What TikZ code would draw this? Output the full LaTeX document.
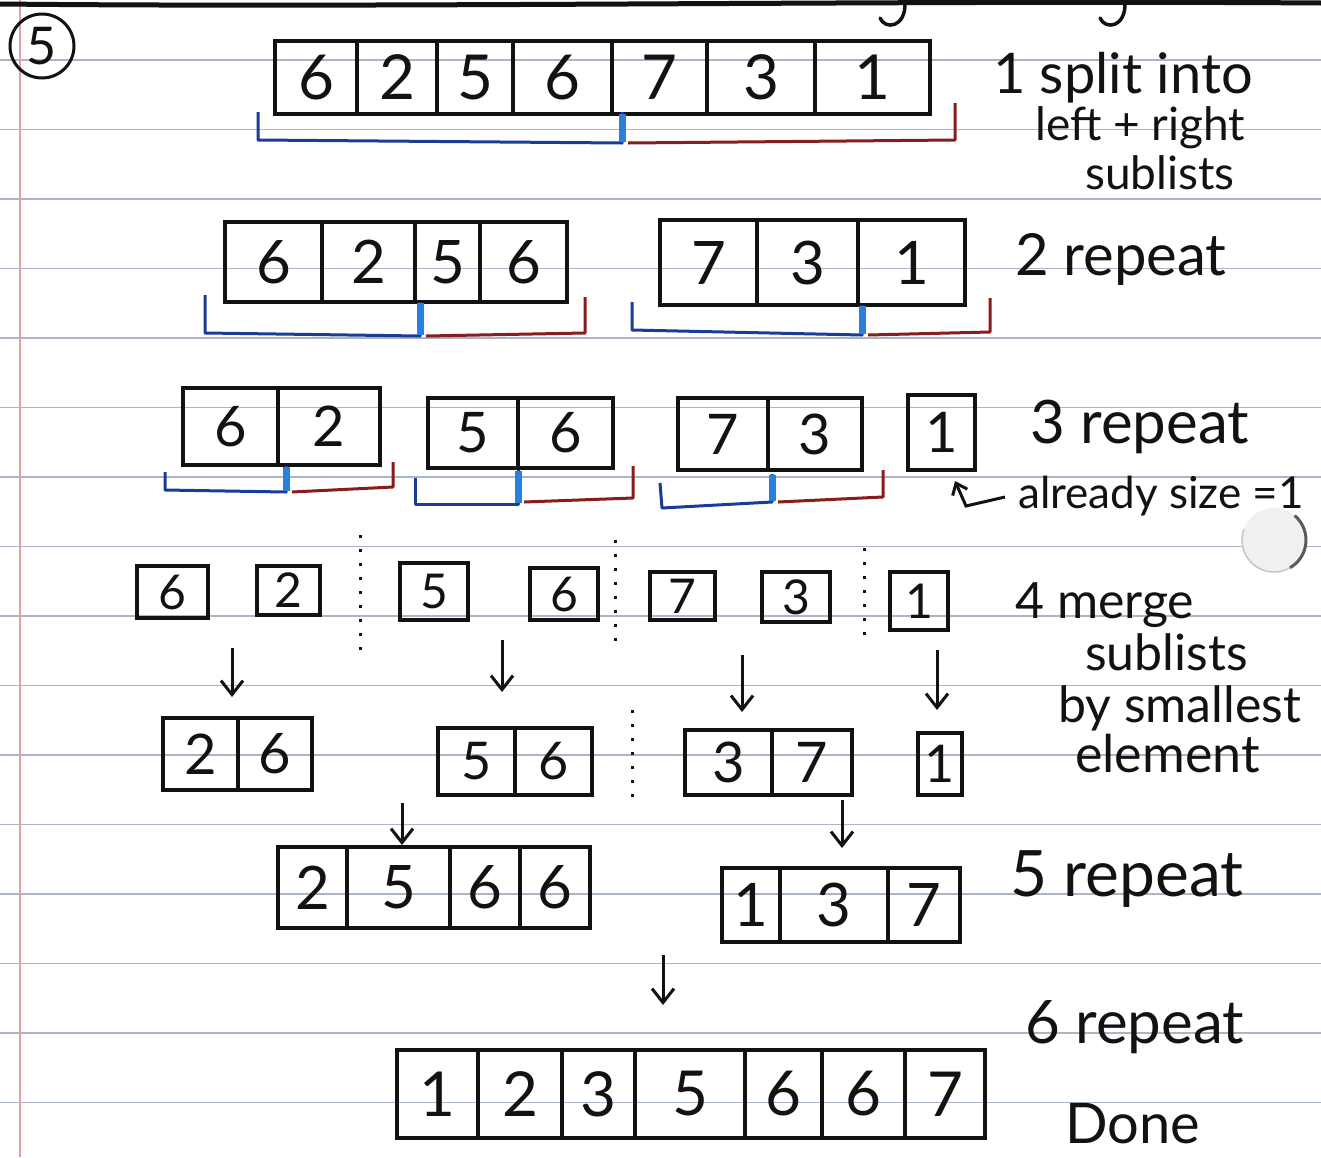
\documentclass[tikz,border=0pt]{standalone}
\usepackage{fontspec}
\setmainfont{Lato}
\usetikzlibrary{arrows.meta}
\definecolor{ruled}{RGB}{170,182,198}
\definecolor{marginred}{RGB}{228,160,160}
\definecolor{penblue}{RGB}{25,60,150}
\definecolor{markblue}{RGB}{40,130,220}
\definecolor{penred}{RGB}{135,30,30}
\definecolor{ink}{RGB}{18,18,18}
\tikzset{
  cell/.style={draw=ink, line width=3.5pt, inner sep=0pt, text=ink},
  lbl/.style={anchor=base west, inner sep=0pt, text=ink},
  downarrow/.style={draw=ink, line width=3pt, -{Straight Barb[length=14pt,width=22pt,line width=3pt]}},
  leftbr/.style={draw=penblue, line width=3pt, line join=round},
  rightbr/.style={draw=penred, line width=3pt, line join=round},
  splitmark/.style={draw=markblue, line width=7pt},
  sep/.style={draw=ink, line width=3pt, dash pattern=on 3pt off 11pt},
}
\newcommand\mkrow[5]{%
  \foreach \xl/\xr/\d [count=\i] in {#4} {
    \node[cell, minimum width={\xr-\xl}, minimum height={#3-#2},
          font=\fontsize{#5}{#5}\selectfont] (#1\i) at ({(\xl+\xr)/2},{(#2+#3)/2}) {\d};
  }}
\begin{document}
\begin{tikzpicture}[x=1pt,y=-1pt]
\useasboundingbox (0,0) rectangle (1321,1157);
\fill[white] (0,0) rectangle (1321,1157);
% ruled paper
\foreach \k in {0,...,15} {
  \draw[ruled, line width=1.5pt] (0,{60+69.5*\k}) -- (1321,{60+69.5*\k});
}
\draw[marginred, line width=1.6pt] (20,0) -- (20,1157);
% top edge and leftover strokes
\draw[ink, line width=5pt] (0,4) .. controls (400,8) and (900,0) .. (1321,3);
\draw[ink, line width=3.5pt, line cap=round] (905,2) .. controls (906,28) and (885,30) .. (880,18);
\draw[ink, line width=3.5pt, line cap=round] (1125,2) .. controls (1126,28) and (1105,30) .. (1100,18);
% circled 5
\node[draw=ink, circle, line width=3pt, minimum size=64pt, inner sep=0pt,
      font=\fontsize{52}{52}\selectfont, text=ink] (num) at (42,46) {5};
% hole punch
\fill[gray!12] (1274,540) circle (32);
\draw[gray!70!black, line width=3pt] (1274,540) ++(-50:32) arc (-50:60:32);
\draw[gray!45, line width=1.5pt] (1274,540) ++(60:32) arc (60:200:32);

% ---------- row 1
\mkrow{ra}{41}{114}{275/357/6,357/437/2,437/513/5,513/612/6,612/707/7,707/815/3,815/930/1}{62}
\draw[leftbr] (258,112) -- (258,140) -- (622,143) -- (622,112);
\draw[rightbr] (628,143) -- (955,140) -- (955,103);
\draw[splitmark] (622,114) -- (622,142);
\node[lbl, font=\fontsize{56}{56}\selectfont] (t1a) at (993,93) {1 split into};
\node[lbl, font=\fontsize{46}{46}\selectfont] (t1b) at (1035,140) {left + right};
\node[lbl, font=\fontsize{46}{46}\selectfont] (t1c) at (1085,189) {sublists};

% ---------- row 2
\mkrow{rb}{222}{302}{225/322/6,322/415/2,415/480/5,480/567/6}{60}
\mkrow{rc}{220}{305}{660/757/7,757/858/3,858/965/1}{60}
\draw[leftbr] (205,295) -- (205,333) -- (420,336) -- (420,302);
\draw[rightbr] (426,336) -- (585,333) -- (585,297);
\draw[splitmark] (420,303) -- (420,335);
\draw[leftbr] (632,302) -- (632,330) -- (862,335) -- (862,305);
\draw[rightbr] (868,335) -- (990,332) -- (990,298);
\draw[splitmark] (862,306) -- (862,334);
\node[lbl, font=\fontsize{58}{58}\selectfont] (t2) at (1015,275) {2 repeat};

% ---------- row 3
\mkrow{rd}{388}{465}{183/278/6,278/380/2}{56}
\mkrow{re}{398}{468}{428/518/5,518/613/6}{56}
\mkrow{rf}{398}{470}{678/768/7,768/862/3}{56}
\mkrow{rg}{395}{470}{908/975/1}{56}
\draw[leftbr] (165,472) -- (165,490) -- (286,492) -- (286,466);
\draw[rightbr] (292,492) -- (393,487) -- (393,462);
\draw[splitmark] (286,467) -- (286,491);
\draw[leftbr] (415,478) -- (415,504) -- (518,504) -- (518,470);
\draw[rightbr] (524,502) -- (633,498) -- (633,466);
\draw[splitmark] (518,471) -- (518,503);
\draw[leftbr] (660,483) -- (662,508) -- (772,502) -- (772,474);
\draw[rightbr] (778,502) -- (883,497) -- (883,470);
\draw[splitmark] (772,475) -- (772,501);
\node[lbl, font=\fontsize{60}{60}\selectfont] (t3) at (1030,443) {3 repeat};
\coordinate (sz0) at (1005,497);
\coordinate (sz1) at (966,506);
\coordinate (sz2) at (955,481);
\draw[ink, line width=3pt, -{Straight Barb[length=10pt,width=16pt,line width=3pt]}] (sz0) -- (sz1) -- (sz2);
\node[lbl, font=\fontsize{44}{44}\selectfont] (t3b) at (1018,508) {already size =1};

% ---------- row 4
\mkrow{rh}{566}{618}{137/208/6}{48}
\mkrow{ri}{566}{615}{257/320/2}{48}
\mkrow{rj}{563}{620}{400/468/5}{48}
\mkrow{rk}{568}{620}{530/598/6}{48}
\mkrow{rl}{572}{620}{650/715/7}{48}
\mkrow{rm}{572}{622}{762/830/3}{48}
\mkrow{rn}{572}{630}{890/948/1}{48}
\draw[sep] (360,535) -- (360,655);
\draw[sep] (615,540) -- (615,645);
\draw[sep] (864,548) -- (864,640);
\node[lbl, font=\fontsize{50}{50}\selectfont] (t4a) at (1015,618) {4 merge};
\node[lbl, font=\fontsize{50}{50}\selectfont] (t4b) at (1085,670) {sublists};
\node[lbl, font=\fontsize{50}{50}\selectfont] (t4c) at (1058,722) {by smallest};
\node[lbl, font=\fontsize{52}{52}\selectfont] (t4d) at (1075,772) {element};

% arrows row 4 -> row 5
\coordinate (a1s) at (232,648); \coordinate (a1e) at (232,697);
\coordinate (a2s) at (502,640); \coordinate (a2e) at (502,692);
\coordinate (a3s) at (742,655); \coordinate (a3e) at (742,712);
\coordinate (a4s) at (937,650); \coordinate (a4e) at (937,710);
\draw[downarrow] (a1s) -- (a1e);
\draw[downarrow] (a2s) -- (a2e);
\draw[downarrow] (a3s) -- (a3e);
\draw[downarrow] (a4s) -- (a4e);

% ---------- row 5
\mkrow{ro}{718}{790}{163/238/2,238/312/6}{56}
\mkrow{rp}{728}{795}{438/515/5,515/592/6}{52}
\mkrow{rq}{730}{795}{685/772/3,772/852/7}{56}
\mkrow{rr}{733}{795}{918/962/1}{52}
\draw[sep] (632,710) -- (632,805);

\coordinate (a5s) at (402,803); \coordinate (a5e) at (402,845);
\coordinate (a6s) at (842,800); \coordinate (a6e) at (842,848);
\draw[downarrow] (a5s) -- (a5e);
\draw[downarrow] (a6s) -- (a6e);

% ---------- row 6
\mkrow{rs}{847}{928}{278/347/2,347/450/5,450/520/6,520/590/6}{60}
\mkrow{rt}{868}{942}{722/780/1,780/888/3,888/960/7}{60}
\node[lbl, font=\fontsize{64}{64}\selectfont] (t5) at (1010,896) {5 repeat};

\coordinate (a7s) at (663,955); \coordinate (a7e) at (663,1005);
\draw[downarrow] (a7s) -- (a7e);

% ---------- row 7
\mkrow{ru}{1050}{1138}{397/478/1,478/562/2,562/635/3,635/745/5,745/822/6,822/905/6,905/985/7}{62}
\node[lbl, font=\fontsize{60}{60}\selectfont] (t6) at (1025,1043) {6 repeat};
\node[lbl, font=\fontsize{56}{56}\selectfont] (t7) at (1065,1143) {Done};
\end{tikzpicture}
\end{document}
